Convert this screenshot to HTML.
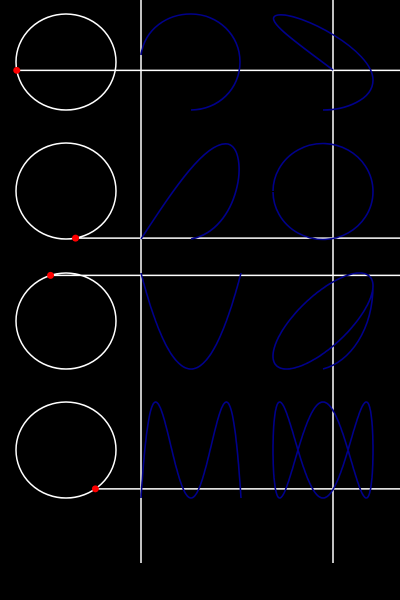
<!DOCTYPE html>
<html><head><meta charset="utf-8"><style>
html,body{margin:0;padding:0;background:#000;width:400px;height:600px;overflow:hidden}
svg{display:block}
</style></head><body>
<svg id="chart" width="400" height="600" viewBox="0 0 400 600">
<rect width="400" height="600" fill="#000"/>
<g id="g"></g>
</svg>
<script>
const rowCentersY = [62, 191, 321, 450];
const dotAngles = [170, 79, 252, 54]; // degrees on left circle (screen y down)
const guideLinesX = [141, 333];
const col1Paths = [
  "M141,55 C145,28 168,14 191,14 C218,14 240,35 240,62 C240,89 218,110 191,110",
  "M141,239 C170,195 205,140 228,144 C250,150 240,230 191,239",
  "", ""
];
const col2Paths = [
  "M333,70 C300,45 260,18 278,15 C300,12 373,50 373,80 C373,100 345,110 323,110",
  "M273,191 A50,48 0 1 1 273,192",
  "", ""
];
const ns = "http://www.w3.org/2000/svg";
const g = document.getElementById('g');
function mk(tag, attrs){const e=document.createElementNS(ns,tag);for(const k in attrs)e.setAttribute(k,attrs[k]);g.appendChild(e);return e;}
const cx = 66, R = 50, RY = 48;
guideLinesX.forEach((x,i)=>{
  const l = mk('line',{x1:x,y1:0,x2:x,y2:563,stroke:'#fff','stroke-width':1.5});
  
  
});
function trace(fn, t0, t1, n, ox, oy){
  let d='';
  for(let i=0;i<=n;i++){const t=t0+(t1-t0)*i/n;const [u,v]=fn(t);d+=(i?'L':'M')+(ox+50*u).toFixed(1)+','+(oy-48*v).toFixed(1);}
  return d;
}
rowCentersY.forEach((cy,r)=>{
  const c = mk('ellipse',{cx:cx,cy:cy,rx:R,ry:RY,fill:'none',stroke:'#fff','stroke-width':1.5});
  
  
  const a = dotAngles[r]*Math.PI/180;
  const px = cx + R*Math.cos(a), py = cy + RY*Math.sin(a);
  const hl = mk('line',{x1:px,y1:py,x2:400,y2:py,stroke:'#fff','stroke-width':1.5});
  
  
  let d1 = col1Paths[r], d2 = col2Paths[r];
  if(r===2){
    d1 = trace(t=>[-Math.cos(t),Math.cos(2*t)],0,Math.PI,100,191,cy);
    d2 = trace(t=>[-Math.cos(t),-Math.cos(t+0.75)],0,2*Math.PI,200,323,cy)
       + 'M373,285 C373,330 350,362 323,369';
  }
  if(r===3){
    d1 = trace(t=>[-Math.cos(t),-Math.cos(4*t)],0,Math.PI,200,191,cy);
    d2 = trace(t=>[Math.cos(t),Math.sin(3*t)],0,2*Math.PI,400,323,cy);
  }
  const p1 = mk('path',{d:d1,fill:'none',stroke:'#00008b','stroke-width':1.6});
  
  
  const p2 = mk('path',{d:d2,fill:'none',stroke:'#00008b','stroke-width':1.6});
  
  
  const dot = mk('circle',{cx:px,cy:py,r:3.5,fill:'#f00'});
  
  
});
</script>
</body></html>
